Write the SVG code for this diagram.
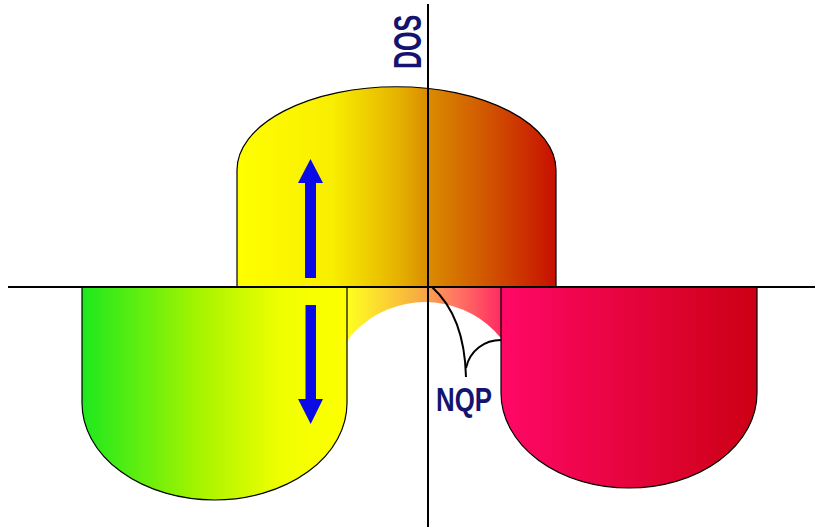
<svg xmlns="http://www.w3.org/2000/svg" width="822" height="527" viewBox="0 0 822 527">
<defs>
<linearGradient id="gTop" gradientUnits="userSpaceOnUse" x1="237" y1="0" x2="556" y2="0">
<stop offset="0" stop-color="#ffff00"/>
<stop offset="0.3" stop-color="#f8ee00"/>
<stop offset="0.5" stop-color="#e6b400"/>
<stop offset="0.6" stop-color="#da8c00"/>
<stop offset="0.8" stop-color="#d05000"/>
<stop offset="1" stop-color="#c81000"/>
</linearGradient>
<linearGradient id="gLeft" gradientUnits="userSpaceOnUse" x1="82" y1="0" x2="347" y2="0">
<stop offset="0" stop-color="#1ee81e"/>
<stop offset="0.45" stop-color="#a8f400"/>
<stop offset="0.75" stop-color="#f0ff00"/>
<stop offset="1" stop-color="#ffff00"/>
</linearGradient>
<linearGradient id="gRight" gradientUnits="userSpaceOnUse" x1="501" y1="0" x2="757" y2="0">
<stop offset="0" stop-color="#ff0866"/>
<stop offset="1" stop-color="#cc0014"/>
</linearGradient>
<linearGradient id="gMid" gradientUnits="userSpaceOnUse" x1="347" y1="0" x2="501" y2="0">
<stop offset="0" stop-color="#ffff20"/>
<stop offset="0.45" stop-color="#f8b040"/>
<stop offset="0.7" stop-color="#ff7864"/>
<stop offset="1" stop-color="#ff2c62"/>
</linearGradient>
</defs>
<style>
.shape{stroke:#000;stroke-width:1.2}
.axis{stroke:#000;stroke-width:2;fill:none}
.arrow{fill:#0a0ae6}
.lbl{font-family:"Liberation Sans",Arial,sans-serif;font-weight:bold;fill:#141470}
.conn{stroke:#000;stroke-width:2;fill:none}
</style>
<rect width="822" height="527" fill="#fff"/>
<g id="middle">
<rect x="347" y="287" width="154" height="80" fill="url(#gMid)"/>
<circle cx="425" cy="400" r="98" fill="#fff"/>
</g>
<g id="top-dome">
<path class="shape" d="M237,287 L237,170 A159,83 0 0 1 556,170 L556,287 Z" fill="url(#gTop)"/>
</g>
<g id="bottom-left">
<path class="shape" d="M82,287 L82,403 A132.5,97 0 0 0 347,403 L347,287 Z" fill="url(#gLeft)"/>
</g>
<g id="bottom-right">
<path class="shape" d="M501,287 L501,393 A128,95 0 0 0 757,393 L757,287 Z" fill="url(#gRight)"/>
</g>
<g id="arrow-up">
<polygon class="arrow" points="305,278 316,278 316,183 323,183 310.5,159 298,183 305,183"/>
</g>
<g id="arrow-down">
<polygon class="arrow" points="305.5,305 316,305 316,399 323,399 310.7,424 298,399 305.5,399"/>
</g>
<g id="connectors">
<line class="axis" x1="8" y1="287" x2="815" y2="287"/>
<line class="axis" x1="428" y1="4" x2="428" y2="527"/>
<path class="conn" d="M432,287 C452,305 465,335 466,377"/>
<path class="conn" d="M501,340 C485,340 470,350 466,368"/>
</g>
<g id="label-dos">
<text class="lbl" transform="translate(421,69) rotate(-90) scale(0.66,1)" font-size="38">DOS</text>
</g>
<g id="label-nqp">
<text class="lbl" x="436" y="411" font-size="34" textLength="56" lengthAdjust="spacingAndGlyphs">NQP</text>
</g>
</svg>
